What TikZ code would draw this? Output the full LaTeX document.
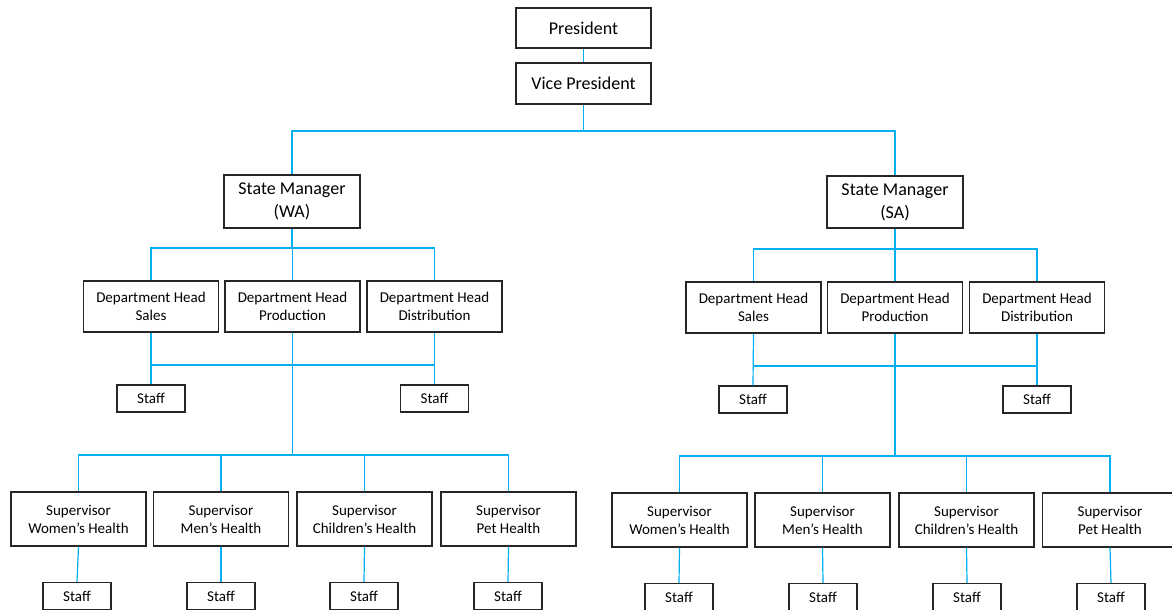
\documentclass[tikz,border=0pt]{standalone}
\usepackage{fontspec}
\setmainfont{Carlito}
\begin{document}
\begin{tikzpicture}[x=1pt,y=-1pt,
  box/.style={draw=black!85, line width=1.3pt, align=center, inner sep=0pt, fill=white},
  bigbox/.style={box, minimum width=135pt, font=\fontsize{18}{23}\selectfont},
  dbox/.style={box, minimum width=135pt, minimum height=51pt, font=\fontsize{15}{18}\selectfont},
  sbox/.style={box, minimum width=135pt, minimum height=54pt, font=\fontsize{15}{18}\selectfont},
  stbox/.style={box, minimum width=68pt, minimum height=27pt, font=\fontsize{15}{16}\selectfont},
  conn/.style={draw={rgb,255:red,0;green,176;blue,240}, line width=1.2pt}]
\useasboundingbox (0,0) rectangle (1172,610);
% top
\node[bigbox, minimum height=40pt] (pres) at (583.5,28) {President};
\node[bigbox, minimum height=41pt] (vp) at (583.5,83.5) {Vice President};
\node[bigbox, minimum width=136pt, minimum height=53pt] (smwa) at (292,201.5) {State Manager\\(WA)};
\node[bigbox, minimum width=136pt, minimum height=52pt] (smsa) at (895,202) {State Manager\\(SA)};
% WA departments
\node[dbox] (wds) at (151,306.5) {Department Head\\Sales};
\node[dbox] (wdp) at (292.5,306.5) {Department Head\\Production};
\node[dbox] (wdd) at (434.5,306.5) {Department Head\\Distribution};
% SA departments
\node[dbox] (sds) at (753.5,307.5) {Department Head\\Sales};
\node[dbox] (sdp) at (895,307.5) {Department Head\\Production};
\node[dbox] (sdd) at (1037,307.5) {Department Head\\Distribution};
% dept staff
\node[stbox] (wst1) at (151,398.5) {Staff};
\node[stbox] (wst2) at (434.5,398.5) {Staff};
\node[stbox] (sst1) at (753,399.5) {Staff};
\node[stbox] (sst2) at (1037,399.5) {Staff};
% WA supervisors
\node[sbox] (ws1) at (78.5,519) {Supervisor\\Women’s Health};
\node[sbox] (ws2) at (221,519) {Supervisor\\Men’s Health};
\node[sbox] (ws3) at (364.5,519) {Supervisor\\Children’s Health};
\node[sbox] (ws4) at (508.5,519) {Supervisor\\Pet Health};
% SA supervisors
\node[sbox] (ss1) at (679.5,520) {Supervisor\\Women’s Health};
\node[sbox] (ss2) at (822.5,520) {Supervisor\\Men’s Health};
\node[sbox] (ss3) at (966.5,520) {Supervisor\\Children’s Health};
\node[sbox] (ss4) at (1110,520) {Supervisor\\Pet Health};
% bottom staff
\node[stbox] (wb1) at (77,596) {Staff};
\node[stbox] (wb2) at (221,596) {Staff};
\node[stbox] (wb3) at (364,596) {Staff};
\node[stbox] (wb4) at (508,596) {Staff};
\node[stbox] (sb1) at (679,597) {Staff};
\node[stbox] (sb2) at (823,597) {Staff};
\node[stbox] (sb3) at (967,597) {Staff};
\node[stbox] (sb4) at (1111,597) {Staff};
% bus coordinates
\coordinate (btop) at (0,131);
\coordinate (bwa) at (0,248);
\coordinate (bsa) at (0,249);
\coordinate (hwa) at (0,365);
\coordinate (hsa) at (0,366);
\coordinate (uwa) at (0,455);
\coordinate (usa) at (0,456);
% connectors
\path[conn] (pres.south) -- (vp.north);
\path[conn] (vp.south) -- (vp.south |- btop);
\path[conn] (smwa.north) |- (vp.south |- btop) -| (smsa.north);
% WA
\path[conn] (smwa.south) -- (smwa.south |- bwa);
\path[conn] (wds.north) |- (smwa.south |- bwa) -| (wdd.north);
\path[conn] (wdp.north) -- (wdp.north |- bwa);
\path[conn] (wds.south) -- (wst1.north);
\path[conn] (wdd.south) -- (wst2.north);
\path[conn] (wds.south |- hwa) -- (wdd.south |- hwa);
\path[conn] (wdp.south) -- (wdp.south |- uwa);
\path[conn] (ws1.north) |- (wdp.south |- uwa) -| (ws4.north);
\path[conn] (ws2.north) -- (ws2.north |- uwa);
\path[conn] (ws3.north) -- (ws3.north |- uwa);
\path[conn] (ws1.south) -- (wb1.north);
\path[conn] (ws2.south) -- (wb2.north);
\path[conn] (ws3.south) -- (wb3.north);
\path[conn] (ws4.south) -- (wb4.north);
% SA
\path[conn] (smsa.south) -- (smsa.south |- bsa);
\path[conn] (sds.north) |- (smsa.south |- bsa) -| (sdd.north);
\path[conn] (sdp.north) -- (sdp.north |- bsa);
\path[conn] (sds.south) -- (sst1.north);
\path[conn] (sdd.south) -- (sst2.north);
\path[conn] (sds.south |- hsa) -- (sdd.south |- hsa);
\path[conn] (sdp.south) -- (sdp.south |- usa);
\path[conn] (ss1.north) |- (sdp.south |- usa) -| (ss4.north);
\path[conn] (ss2.north) -- (ss2.north |- usa);
\path[conn] (ss3.north) -- (ss3.north |- usa);
\path[conn] (ss1.south) -- (sb1.north);
\path[conn] (ss2.south) -- (sb2.north);
\path[conn] (ss3.south) -- (sb3.north);
\path[conn] (ss4.south) -- (sb4.north);
\end{tikzpicture}
\end{document}
